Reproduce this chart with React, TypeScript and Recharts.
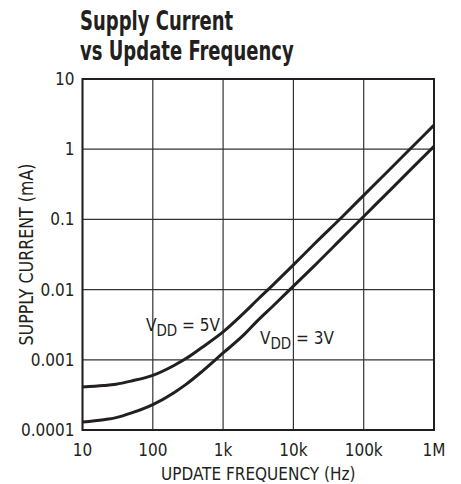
import React from 'react'
import {
  CartesianGrid,
  Line,
  LineChart,
  ReferenceArea,
  ReferenceDot,
  XAxis,
  YAxis,
} from 'recharts'

const frequency = [10, 20, 30, 50, 100, 200, 300, 500, 1000, 2000, 3000, 5000, 10000, 20000, 50000, 100000, 200000, 500000, 1000000]
const current5V = [0.00041, 0.00043, 0.00045, 0.0005, 0.0006, 0.00083, 0.00105, 0.0015, 0.0025, 0.0047, 0.007, 0.0114, 0.0225, 0.045, 0.11, 0.22, 0.44, 1.1, 2.2]
const current3V = [0.00013, 0.00014, 0.00015, 0.000175, 0.00023, 0.00034, 0.00045, 0.00068, 0.00125, 0.0023, 0.0035, 0.0057, 0.0112, 0.022, 0.055, 0.11, 0.22, 0.55, 1.1]

const xTicks = [10, 100, 1000, 10000, 100000, 1000000]
const xTickLabels = ['10', '100', '1k', '10k', '100k', '1M']
const yTicks = [0.0001, 0.001, 0.01, 0.1, 1, 10]
const yTickLabels = ['0.0001', '0.001', '0.01', '0.1', '1', '10']

const data = frequency.map((f, i) => ({ f, v5: current5V[i], v3: current3V[i] }))

const INK = '#231f20'
const FONT = '"Liberation Sans Narrow", "DejaVu Sans Condensed", "Roboto", sans-serif'

function vddShape(volts: string) {
  return (props: any) => (
    <text x={props.cx} y={props.cy} fill={INK} fontFamily={FONT} fontSize={17}>
      V
      <tspan fontSize={15} dy={5}>DD</tspan>
      <tspan dy={-5}>{` = ${volts}`}</tspan>
    </text>
  )
}

function YTitle(props: any) {
  const vb = props.viewBox || { x: 0, y: 71, width: 74.5, height: 351 }
  const cx = vb.x + 18
  const cy = vb.y + vb.height / 2
  return (
    <text
      x={cx}
      y={cy}
      transform={`rotate(-90, ${cx}, ${cy})`}
      textAnchor="middle"
      dominantBaseline="central"
      fill={INK}
      fontFamily={FONT}
      fontSize={19}
      textLength={182}
      lengthAdjust="spacingAndGlyphs"
    >
      SUPPLY CURRENT (mA)
    </text>
  )
}

export default function App() {
  return (
    <div style={{ position: 'relative', width: 445, height: 476, fontFamily: FONT }}>
      <div
        style={{
          position: 'absolute',
          left: 72,
          top: -2,
          fontSize: 26,
          fontWeight: 'bold',
          lineHeight: '30px',
          color: INK,
          transform: 'scaleX(0.77)',
          transformOrigin: 'left top',
          whiteSpace: 'nowrap',
        }}
      >
        Supply Current
        <br />
        vs Update Frequency
      </div>
      <LineChart
        width={445}
        height={476}
        data={data}
        margin={{ top: 71, right: 19, bottom: 0, left: 0 }}
      >
        <CartesianGrid stroke="#333" strokeWidth={1.2} />
        <XAxis
          dataKey="f"
          type="number"
          scale="log"
          domain={[10, 1000000]}
          ticks={xTicks}
          allowDataOverflow
          tickFormatter={(v: number) => xTickLabels[xTicks.indexOf(v)] ?? ''}
          tick={{ fill: INK, fontSize: 17, fontFamily: FONT, dy: 6 }}
          tickLine={false}
          axisLine={false}
          height={54}
          label={{
            value: 'UPDATE FREQUENCY (Hz)',
            position: 'insideBottom',
            offset: 4,
            fill: INK,
            fontSize: 17,
            fontFamily: FONT,
          }}
        />
        <YAxis
          type="number"
          scale="log"
          domain={[0.0001, 10]}
          ticks={yTicks}
          allowDataOverflow
          tickFormatter={(v: number) => yTickLabels[yTicks.indexOf(v)] ?? ''}
          tick={{ fill: INK, fontSize: 17, fontFamily: FONT }}
          tickLine={false}
          axisLine={false}
          width={74.5}
          label={{ content: (p: any) => <YTitle {...p} /> }}
        />
        <ReferenceArea
          x1={10}
          x2={1000000}
          y1={0.0001}
          y2={10}
          fill="none"
          stroke={INK}
          strokeWidth={2}
          ifOverflow="visible"
        />
        <Line
          dataKey="v5"
          type="monotone"
          stroke={INK}
          strokeWidth={3}
          dot={false}
          isAnimationActive={false}
        />
        <Line
          dataKey="v3"
          type="monotone"
          stroke={INK}
          strokeWidth={3}
          dot={false}
          isAnimationActive={false}
        />
        <ReferenceDot x={80} y={0.0026} r={0} shape={vddShape('5V')} ifOverflow="visible" />
        <ReferenceDot x={3350} y={0.0017} r={0} shape={vddShape('3V')} ifOverflow="visible" />
      </LineChart>
    </div>
  )
}
